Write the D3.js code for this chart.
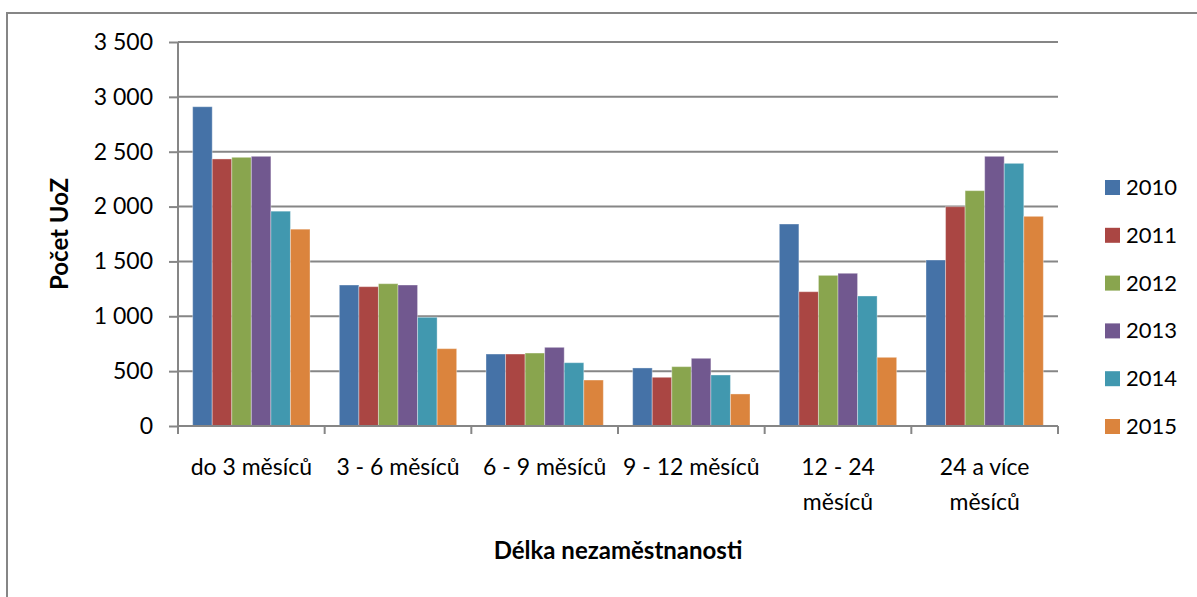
<!DOCTYPE html>
<html>
<head>
<meta charset="utf-8">
<script src="https://cdn.jsdelivr.net/npm/d3@7"></script>
<style>
  body { margin: 0; background: #fff; }
  text { font-family: Lato, 'Open Sans', sans-serif; fill: #000; }
</style>
</head>
<body>
<script>
const categories = [
  ['do 3 měsíců'],
  ['3 - 6 měsíců'],
  ['6 - 9 měsíců'],
  ['9 - 12 měsíců'],
  ['12 - 24', 'měsíců'],
  ['24 a více', 'měsíců']
]
const years = ['2010', '2011', '2012', '2013', '2014', '2015']
const v2010 = [2910, 1285, 656, 529, 1841, 1513]
const v2011 = [2434, 1270, 656, 444, 1224, 1999]
const v2012 = [2449, 1297, 665, 541, 1373, 2145]
const v2013 = [2458, 1285, 717, 617, 1392, 2458]
const v2014 = [1958, 991, 577, 465, 1185, 2394]
const v2015 = [1794, 705, 419, 292, 626, 1911]
const yTicks = [0, 500, 1000, 1500, 2000, 2500, 3000, 3500]

const series = [v2010, v2011, v2012, v2013, v2014, v2015]
const colors = ['#4572a7', '#aa4643', '#89a54e', '#71588f', '#4198af', '#db843d']

const outerWidth = 1197
const outerHeight = 597
const margin = { left: 178, top: 42, right: 139, bottom: 171 }
const innerWidth = outerWidth - margin.left - margin.right
const innerHeight = outerHeight - margin.top - margin.bottom
const gridGray = '#868686'

const svg = d3.select('body')
  .append('svg')
  .attr('width', outerWidth)
  .attr('height', outerHeight)

// chart frame (cut off at right and bottom)
svg.append('path')
  .attr('d', `M7,${outerHeight}V13H${outerWidth}`)
  .style('fill', 'none')
  .style('stroke', gridGray)
  .style('stroke-width', 2)

const g = svg.append('g')
  .attr('transform', `translate(${margin.left},${margin.top})`)

const catKeys = categories.map(c => c.join(' '))

const x0 = d3.scaleBand()
  .domain(catKeys)
  .range([0, innerWidth])

const x1 = d3.scaleBand()
  .domain(years)
  .range([x0.bandwidth() * 0.1, x0.bandwidth() * 0.9])

const y = d3.scaleLinear()
  .domain([0, 3500])
  .range([innerHeight, 0])

// gridlines
g.append('g')
  .selectAll('line')
  .data(yTicks.filter(d => d > 0))
  .join('line')
  .attr('x1', 0)
  .attr('x2', innerWidth)
  .attr('y1', d => y(d))
  .attr('y2', d => y(d))
  .style('stroke', gridGray)
  .style('stroke-width', 2)

// y axis
const yAxisG = g.append('g')
  .call(d3.axisLeft(y)
    .tickValues(yTicks)
    .tickSize(9)
    .tickPadding(16)
    .tickFormat(d => d3.format(',')(d).replace(',', ' ')))
yAxisG.selectAll('line, path').style('stroke', gridGray).style('stroke-width', 2)
yAxisG.select('.domain').attr('d', `M0,0V${innerHeight}`)
yAxisG.selectAll('text')
  .style('font-size', '23px')
  .style('font-family', 'Lato, sans-serif')
  .attr('fill', '#000')

// bars
const groups = g.append('g')
  .selectAll('g')
  .data(catKeys)
  .join('g')
  .attr('transform', d => `translate(${x0(d)},0)`)

groups.selectAll('rect')
  .data((d, i) => years.map((yr, s) => ({ yr, s, value: series[s][i] })))
  .join('rect')
  .attr('x', d => x1(d.yr))
  .attr('width', x1.bandwidth())
  .attr('y', d => y(d.value))
  .attr('height', d => innerHeight - y(d.value))
  .style('fill', d => colors[d.s])
  .style('stroke', 'rgba(255,255,255,0.35)')
  .style('stroke-width', 1)

// x axis
const xAxisG = g.append('g')
  .attr('transform', `translate(0,${innerHeight})`)
xAxisG.append('line')
  .attr('x1', 0)
  .attr('x2', innerWidth)
  .style('stroke', gridGray)
  .style('stroke-width', 2)
xAxisG.selectAll('.tick')
  .data(d3.range(catKeys.length + 1))
  .join('line')
  .attr('class', 'tick')
  .attr('x1', d => d * x0.step())
  .attr('x2', d => d * x0.step())
  .attr('y1', 0)
  .attr('y2', 8)
  .style('stroke', gridGray)
  .style('stroke-width', 2)

const xLabels = xAxisG.selectAll('.xlabel')
  .data(categories)
  .join('text')
  .attr('class', 'xlabel')
  .attr('text-anchor', 'middle')
  .style('font-size', '23px')
  .attr('transform', (d, i) => `translate(${x0(catKeys[i]) + x0.bandwidth() / 2},49)`)
xLabels.selectAll('tspan')
  .data(d => d)
  .join('tspan')
  .attr('x', 0)
  .attr('y', (d, i) => i * 35)
  .text(d => d)

// axis titles
svg.append('text')
  .attr('x', margin.left + innerWidth / 2)
  .attr('y', 559)
  .attr('text-anchor', 'middle')
  .style('font-size', '24px')
  .style('font-weight', 'bold')
  .text('Délka nezaměstnanosti')

svg.append('text')
  .attr('transform', `translate(68,${margin.top + innerHeight / 2}) rotate(-90)`)
  .attr('text-anchor', 'middle')
  .style('font-size', '24px')
  .style('font-weight', 'bold')
  .text('Počet UoZ')

// legend
const legend = svg.append('g')
  .attr('transform', 'translate(1105,187)')
const items = legend.selectAll('g')
  .data(years)
  .join('g')
  .attr('transform', (d, i) => `translate(0,${i * 47.8})`)
items.append('rect')
  .attr('x', 0)
  .attr('y', -7)
  .attr('width', 15)
  .attr('height', 15)
  .style('fill', (d, i) => colors[i])
items.append('text')
  .attr('x', 21)
  .attr('y', 8)
  .style('font-size', '22px')
  .text(d => d)
</script>
</body>
</html>
